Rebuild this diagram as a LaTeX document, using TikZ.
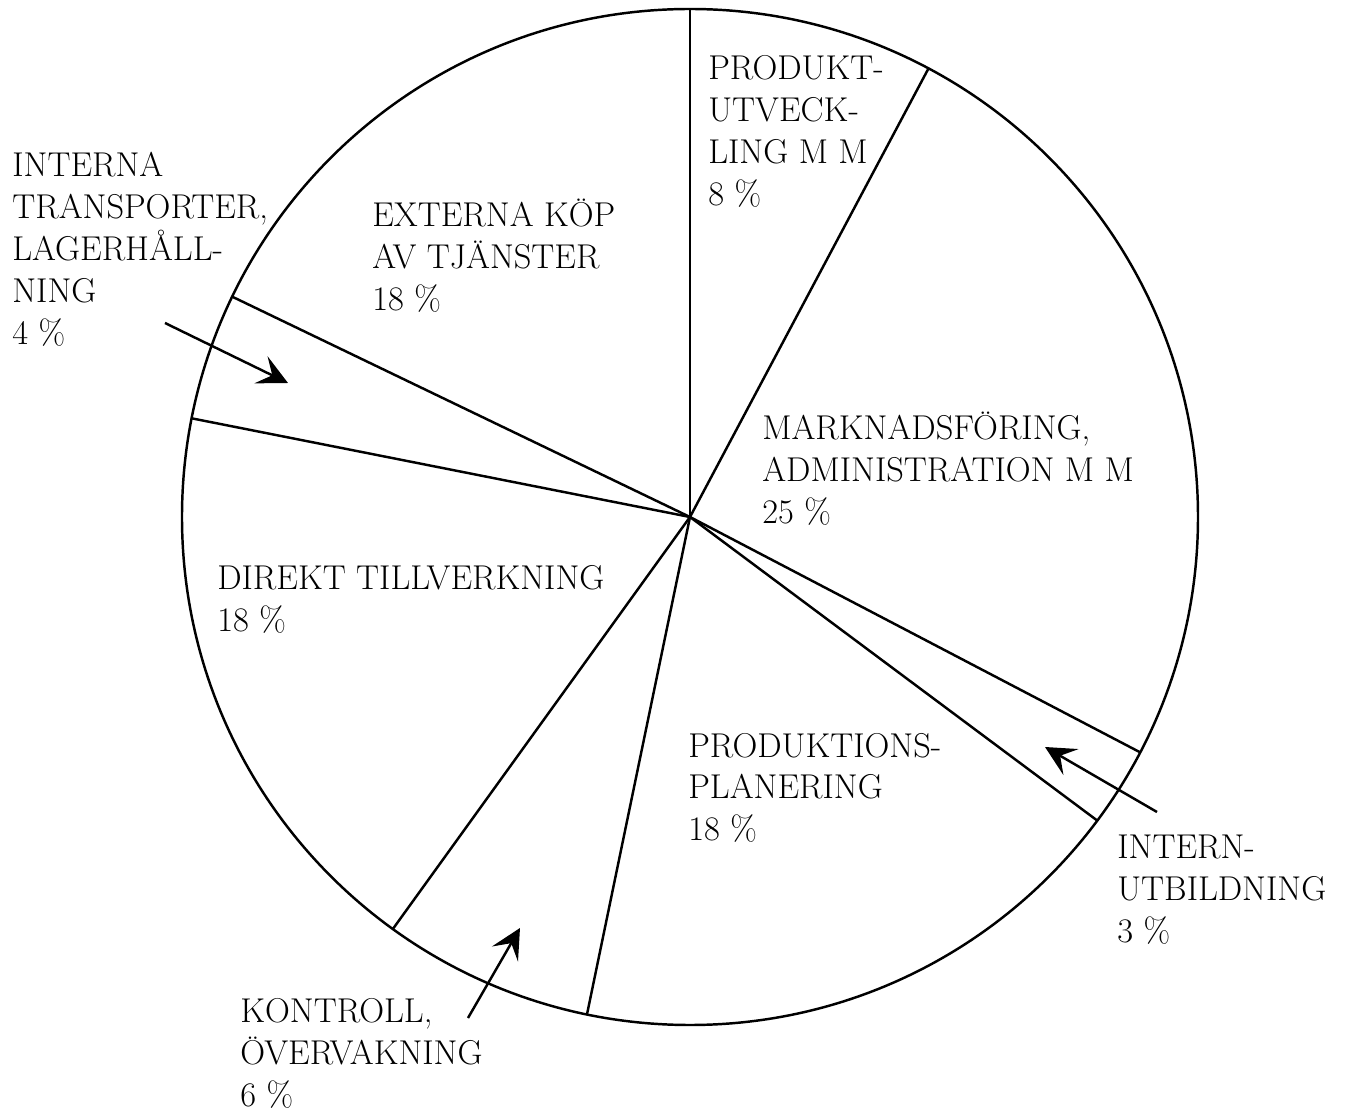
\documentclass[tikz,border=0pt]{standalone}
\usetikzlibrary{arrows.meta}

\begin{document}
\begin{tikzpicture}[
    pie line/.style={line width=1.4pt},
    pointer/.style={line width=1.4pt,-{Stealth[length=6mm,width=6mm,inset=2.5mm]}},
    slice text/.style={anchor=base west,inner sep=0pt,align=left,
      font=\fontsize{19.6}{23.9}\selectfont}]
\useasboundingbox (-13.8,-11.98) rectangle (13.16,10.34);
\coordinate (centre) at (0,0);
\draw[pie line] (centre) circle (10.16);
\foreach \ang [count=\i] in {90,62,-27.6,-36.7,-101.7,-125.8,168.8,154.3}
  \draw[pie line] (centre) -- (\ang:10.16) coordinate (rim\i);
% anchors sit on the baseline of the last line
\node[slice text] (produkt) at (0.36,6.22) {PRODUKT-\\UTVECK-\\LING M M\\8 \%};
\node[slice text] (externa) at (-6.36,4.12) {EXTERNA KÖP\\AV TJÄNSTER\\18 \%};
\node[slice text] (interna) at (-13.56,3.44) {INTERNA\\TRANSPORTER,\\LAGERHÅLL-\\NING\\4 \%};
\node[slice text] (marknad) at (1.44,-0.13) {MARKNADSFÖRING,\\ADMINISTRATION M M\\25 \%};
\node[slice text] (direkt) at (-9.46,-2.3) {DIREKT TILLVERKNING\\18 \%};
\node[slice text] (planering) at (-0.04,-6.48) {PRODUKTIONS-\\PLANERING\\18 \%};
\node[slice text] (utbildning) at (8.54,-8.5) {INTERN-\\UTBILDNING\\3 \%};
\node[slice text] (kontroll) at (-9.0,-11.78) {KONTROLL,\\ÖVERVAKNING\\6 \%};
\coordinate (tail4) at (-10.5,3.88);
\coordinate (head4) at (-8.04,2.68);
\coordinate (tail3) at (9.34,-5.9);
\coordinate (head3) at (7.1,-4.6);
\coordinate (tail6) at (-4.44,-10.02);
\coordinate (head6) at (-3.4,-8.22);
\draw[pointer] (tail4) -- (head4);
\draw[pointer] (tail3) -- (head3);
\draw[pointer] (tail6) -- (head6);
\end{tikzpicture}
\end{document}
